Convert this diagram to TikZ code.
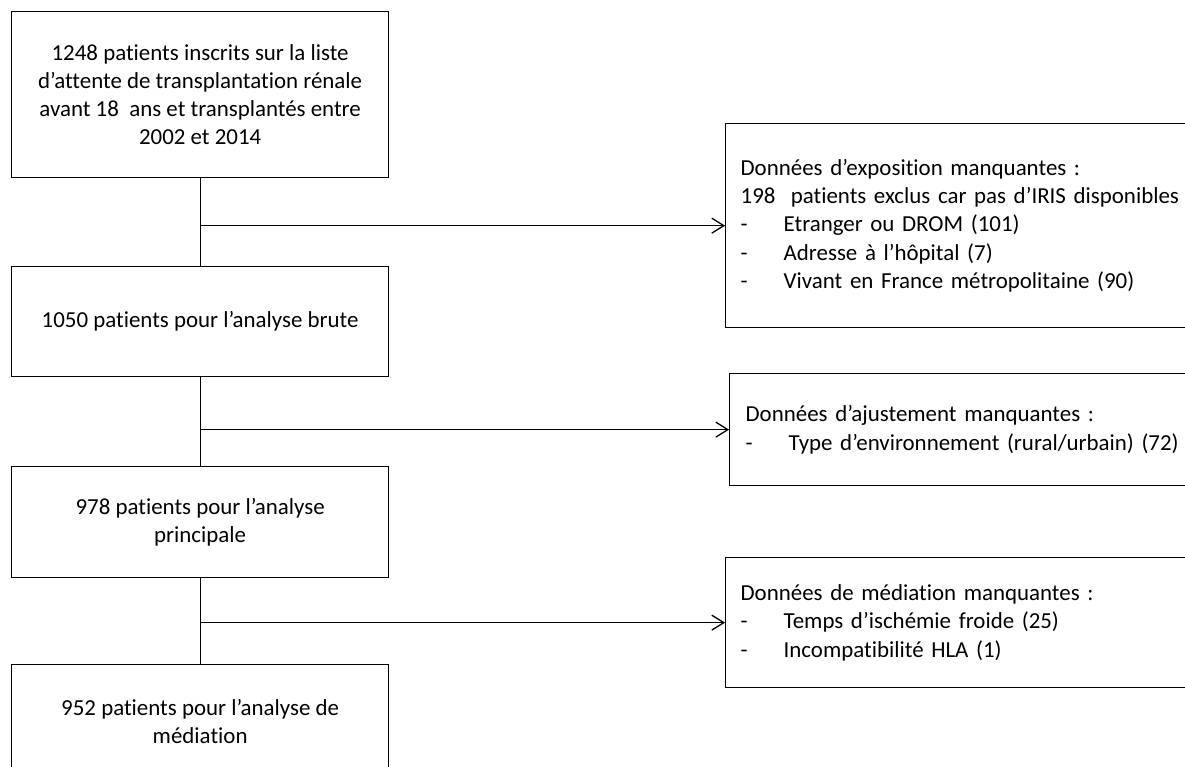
\documentclass[tikz,border=0pt]{standalone}
\usepackage{fontspec}
\setmainfont{Carlito}[Ligatures={NoCommon}]
\usetikzlibrary{arrows.meta}
\begin{document}
\begin{tikzpicture}[x=1bp,y=-1bp,
  box/.style={draw, line width=1.3bp, inner sep=0pt, align=center, anchor=north west,
    minimum width=377bp, font=\fontsize{23}{28}\selectfont},
  side/.style={draw, line width=1.3bp, anchor=north west, align=left, inner ysep=0pt,
    inner xsep=15bp, text width=440bp, minimum width=470bp, font=\fontsize{23}{28.5}\selectfont},
  conn/.style={line width=1.3bp},
  arr/.style={line width=1.3bp, -{Straight Barb[length=12bp,width=15bp]}}]
\useasboundingbox (0,0) rectangle (1185,767);
\clip (0,0) rectangle (1185,767);
\newcommand{\dashitem}[1]{\makebox[43bp][l]{-}#1}

\node[box, minimum height=166bp] (b1) at (11,11)
  {1248 patients inscrits sur la liste\\d’attente de transplantation rénale\\avant 18\ \ ans et transplantés entre\\2002 et 2014};
\node[box, minimum height=110bp] (b2) at (11,266) {1050 patients pour l’analyse brute};
\node[box, minimum height=111bp] (b3) at (11,466) {978 patients pour l’analyse\\principale};
\node[box, minimum height=114bp] (b4) at (11,664) {952 patients pour l’analyse de\\médiation};

\node[side, minimum height=204bp] (r1) at (725,123)
  {Données d’exposition manquantes :\\198\ \ patients exclus car pas d’IRIS disponibles\\
   \dashitem{Etranger ou DROM (101)}\\\dashitem{Adresse à l’hôpital (7)}\\\dashitem{Vivant en France métropolitaine (90)}};
\node[side, minimum height=112bp, inner xsep=16bp, text width=438bp] (r2) at (729,373)
  {Données d’ajustement manquantes :\\\dashitem{Type d’environnement (rural/urbain) (72)}};
\node[side, minimum height=130bp] (r3) at (725,557)
  {Données de médiation manquantes :\\\dashitem{Temps d’ischémie froide (25)}\\\dashitem{Incompatibilité HLA (1)}};

\draw[conn] (b1) -- (b2);
\draw[conn] (b2) -- (b3);
\draw[conn] (b3) -- (b4);
\draw[arr] (b1.south |- r1.west) -- (r1.west);
\draw[arr] (b2.south |- r2.west) -- (r2.west);
\draw[arr] (b3.south |- r3.west) -- (r3.west);
\end{tikzpicture}
\end{document}
